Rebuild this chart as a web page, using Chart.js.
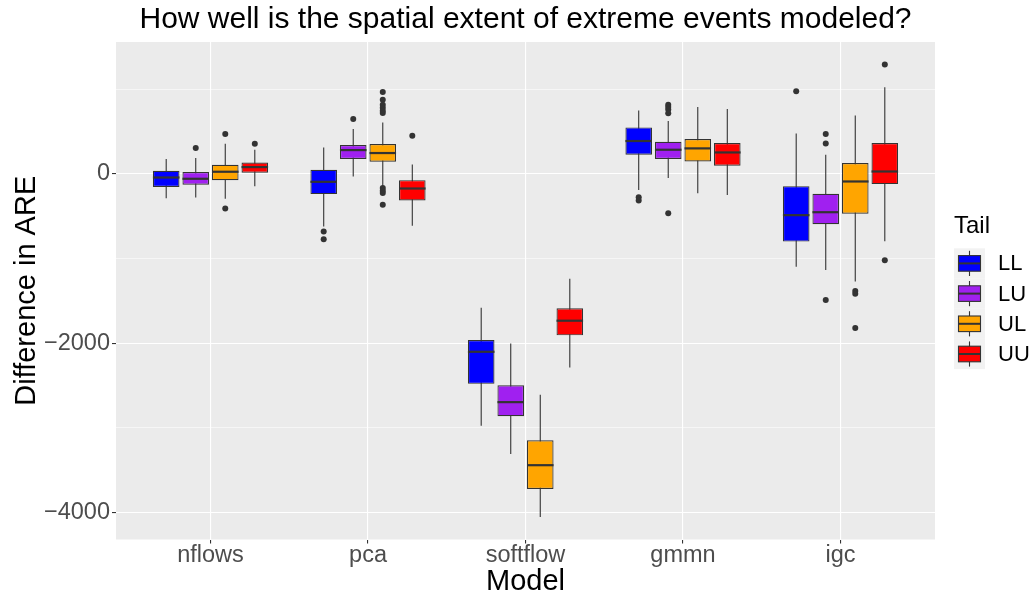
<!DOCTYPE html>
<html>
<head>
<meta charset="utf-8">
<script src="https://cdn.jsdelivr.net/npm/chart.js@4.4.1/dist/chart.umd.min.js"></script>
<style>
  html, body { margin: 0; padding: 0; background: #ffffff; }
</style>
</head>
<body>
<canvas id="container" width="1031" height="598"></canvas>
<script>
const models = ['nflows', 'pca', 'softflow', 'gmmn', 'igc'];
const tails = ['LL', 'LU', 'UL', 'UU'];
const tailColors = ['#0000FF', '#A020F0', '#FFA500', '#FF0000'];

// box statistics, one row per tail, one column per model
const whiskerLow = [
    [-288, -624, -2978, -193, -1097],
    [-280, -32, -3310, -51, -1136],
    [-296, -150, -4055, -229, -1274],
    [-146, -615, -2288, -252, -796]
];
const q1 = [
    [-157, -240, -2482, 225, -801],
    [-130, 174, -2864, 174, -596],
    [-75, 142, -3724, 146, -473],
    [12, -316, -1909, 95, -122]
];
const median = [
    [-44, -95, -2103, 387, -489],
    [-59, 280, -2698, 284, -454],
    [24, 245, -3443, 300, -91],
    [79, -174, -1736, 252, 27]
];
const q3 = [
    [35, 47, -1964, 548, -146],
    [20, 340, -2500, 379, -237],
    [107, 351, -3148, 410, 126],
    [134, -75, -1590, 363, 363]
];
const whiskerHigh = [
    [174, 311, -1582, 749, 477],
    [186, 529, -2004, 624, 225],
    [355, 607, -2611, 789, 690],
    [284, 110, -1239, 765, 1021]
];
const outliers = [
    [[], [-682, -773], [], [-276, -316], [974]],
    [[304], [647], [], [817, 790, 760, 714, -465], [469, 359, -1491]],
    [[470, -410], [967, 876, 817, 780, 746, 718, -169, -201, -228, -367], [], [], [-1385, -1416, -1822]],
    [[355], [450], [], [], [1290, -1021]]
];

const yTicks = [-4000, -3000, -2000, -1000, 0, 1000];
const yLabelled = [-4000, -2000, 0];

const FONT = '"Liberation Sans", Arial, sans-serif';
const INK = '#333333';

// whiskers, medians, outlier dots and the legend drawn around the floating bars
const boxplotParts = {
    id: 'boxplotParts',
    beforeDraw(chart) {
        const { ctx, chartArea: a } = chart;
        ctx.save();
        ctx.fillStyle = '#EBEBEB';
        ctx.fillRect(a.left, a.top, a.right - a.left, a.bottom - a.top);
        ctx.restore();
    },
    beforeDatasetsDraw(chart) {
        const ctx = chart.ctx, y = chart.scales.y;
        ctx.save();
        ctx.strokeStyle = INK;
        ctx.lineWidth = 1.1;
        chart.data.datasets.forEach((ds, t) => {
            chart.getDatasetMeta(t).data.forEach((bar, m) => {
                const { x } = bar.getProps(['x'], true);
                ctx.beginPath();
                ctx.moveTo(x, y.getPixelForValue(whiskerLow[t][m]));
                ctx.lineTo(x, y.getPixelForValue(whiskerHigh[t][m]));
                ctx.stroke();
            });
        });
        ctx.restore();
    },
    afterDatasetsDraw(chart) {
        const ctx = chart.ctx, y = chart.scales.y;
        ctx.save();
        chart.data.datasets.forEach((ds, t) => {
            chart.getDatasetMeta(t).data.forEach((bar, m) => {
                const { x, width } = bar.getProps(['x', 'width'], true);
                const my = y.getPixelForValue(median[t][m]);
                ctx.strokeStyle = INK;
                ctx.lineWidth = 2.2;
                ctx.beginPath();
                ctx.moveTo(x - width / 2, my);
                ctx.lineTo(x + width / 2, my);
                ctx.stroke();
                ctx.fillStyle = INK;
                outliers[t][m].forEach(v => {
                    ctx.beginPath();
                    ctx.arc(x, y.getPixelForValue(v), 3, 0, Math.PI * 2);
                    ctx.fill();
                });
            });
        });
        ctx.restore();
    },
    afterDraw(chart) {
        const { ctx, chartArea: a } = chart;
        const left = a.right + 19;
        const keyW = 31, keyH = 30.2;
        const keysTop = a.top + 206.3;
        ctx.save();
        ctx.fillStyle = '#000000';
        ctx.font = '24px ' + FONT;
        ctx.textAlign = 'left';
        ctx.textBaseline = 'middle';
        ctx.fillText('Tail', left, keysTop - 21.5);
        tails.forEach((name, i) => {
            const top = keysTop + i * keyH;
            const cy = top + keyH / 2;
            ctx.fillStyle = '#F2F2F2';
            ctx.fillRect(left, top, keyW, keyH);
            ctx.strokeStyle = INK;
            ctx.lineWidth = 1.1;
            ctx.beginPath();
            ctx.moveTo(left + keyW / 2, top + 2.5);
            ctx.lineTo(left + keyW / 2, top + keyH - 2.5);
            ctx.stroke();
            ctx.fillStyle = tailColors[i];
            ctx.fillRect(left + 4.5, cy - 7.8, keyW - 9, 15.6);
            ctx.strokeRect(left + 4.5, cy - 7.8, keyW - 9, 15.6);
            ctx.lineWidth = 2;
            ctx.beginPath();
            ctx.moveTo(left + 4.5, cy);
            ctx.lineTo(left + keyW - 4.5, cy);
            ctx.stroke();
            ctx.fillStyle = '#000000';
            ctx.font = '22px ' + FONT;
            ctx.fillText(name, left + 44, cy + 1);
        });
        ctx.restore();
    }
};

new Chart(document.getElementById('container'), {
    type: 'bar',
    data: {
        datasets: tails.map((name, t) => ({
            label: name,
            data: models.map((m, i) => ({ x: i + 1, y: [q1[t][i], q3[t][i]] })),
            backgroundColor: tailColors[t],
            borderColor: INK,
            borderWidth: 1.2,
            borderSkipped: false,
            categoryPercentage: 0.75,
            barPercentage: 0.9
        }))
    },
    options: {
        responsive: false,
        animation: false,
        layout: { padding: { left: 0, right: 96, top: 0, bottom: 0 } },
        plugins: {
            legend: { display: false },
            tooltip: { enabled: false },
            title: {
                display: true,
                fullSize: false,
                text: 'How well is the spatial extent of extreme events modeled?',
                color: '#000000',
                font: { family: FONT, size: 30, weight: 'normal', lineHeight: 1.2 },
                padding: { top: 2, bottom: 4 }
            }
        },
        scales: {
            x: {
                type: 'linear',
                offset: false,
                min: 0.4,
                max: 5.6,
                afterBuildTicks: s => { s.ticks = models.map((m, i) => ({ value: i + 1 })); },
                afterFit: s => { s.height = 58.5; },
                border: { display: false },
                grid: { offset: false, color: '#FFFFFF', lineWidth: 1.1, tickColor: INK, tickWidth: 1.1, tickLength: 4 },
                ticks: {
                    autoSkip: false,
                    maxRotation: 0,
                    padding: 0.75,
                    color: '#4D4D4D',
                    font: { family: FONT, size: 23.5, lineHeight: 1 },
                    callback: v => models[v - 1]
                },
                title: {
                    display: true,
                    text: 'Model',
                    color: '#000000',
                    font: { family: FONT, size: 29, lineHeight: 1 },
                    padding: { top: 0, bottom: 1.5 }
                }
            },
            y: {
                min: -4321,
                max: 1557,
                afterBuildTicks: s => { s.ticks = yTicks.map(v => ({ value: v })); },
                afterFit: s => { s.width = 116; },
                border: { display: false },
                grid: {
                    color: '#FFFFFF',
                    lineWidth: c => yLabelled.includes(c.tick.value) ? 1.1 : 0.55,
                    tickColor: c => yLabelled.includes(c.tick.value) ? INK : 'rgba(0,0,0,0)',
                    tickWidth: 1.1,
                    tickLength: 4
                },
                ticks: {
                    autoSkip: false,
                    padding: 2,
                    color: '#4D4D4D',
                    font: { family: FONT, size: 23.5 },
                    callback: v => yLabelled.includes(v) ? String(v).replace('-', '\u2212') : ''
                },
                title: {
                    display: true,
                    text: 'Difference in ARE',
                    color: '#000000',
                    font: { family: FONT, size: 29, lineHeight: 1.2 },
                    padding: { top: 9.6, bottom: 0 }
                }
            }
        }
    },
    plugins: [boxplotParts]
});
</script>
</body>
</html>
